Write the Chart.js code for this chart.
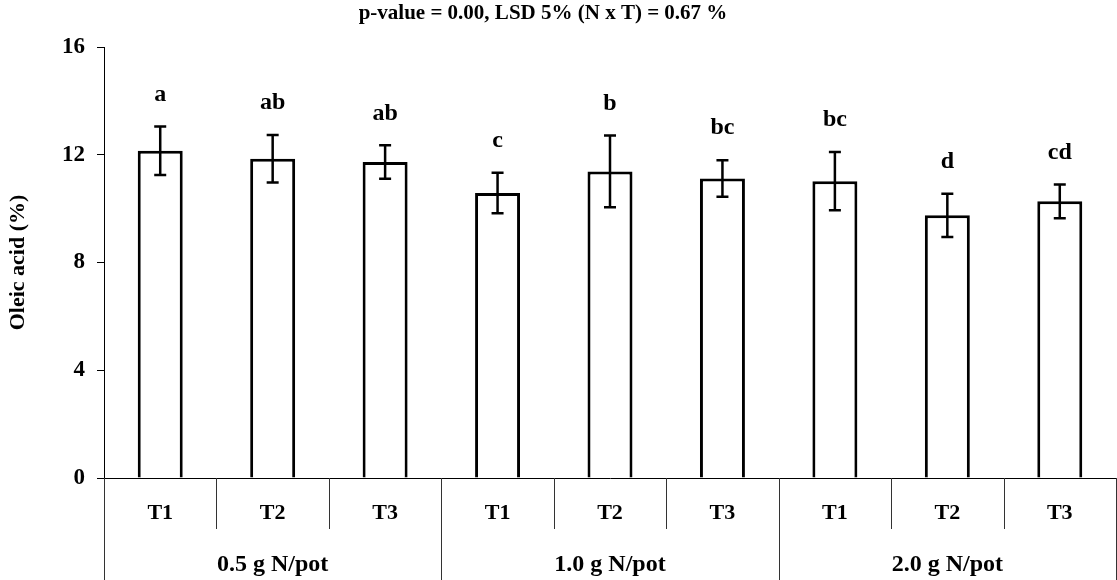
<!DOCTYPE html>
<html>
<head>
<meta charset="utf-8">
<script src="https://cdn.jsdelivr.net/npm/chart.js@4/dist/chart.umd.min.js"></script>
<style>
  html, body { margin: 0; padding: 0; background: #fff; }
  #wrap { width: 1117px; height: 580px; }
</style>
</head>
<body>
<div id="wrap"><canvas id="chart"></canvas></div>
<script>
// 窒素施用量ごとの処理区
const groupNames = ['0.5 g N/pot', '1.0 g N/pot', '2.0 g N/pot'];
const treatments = ['T1', 'T2', 'T3'];

// オレイン酸 (%) の平均値と誤差
const oleicMeans = [12.15, 11.85, 11.73, 10.58, 11.38, 11.12, 11.02, 9.75, 10.27];
const oleicErrors = [0.9, 0.88, 0.62, 0.75, 1.33, 0.68, 1.08, 0.8, 0.63];
const letters = ['a', 'ab', 'ab', 'c', 'b', 'bc', 'bc', 'd', 'cd'];

const yTicks = [0, 4, 8, 12, 16];
const titleText = 'p-value = 0.00, LSD 5% (N x T) = 0.67 %';
const yTitle = 'Oleic acid (%)';

const labels = [];
groupNames.forEach(() => treatments.forEach(t => labels.push(t)));

const FONT = '"Liberation Serif", "Times New Roman", serif';
Chart.defaults.font.family = FONT;
Chart.defaults.color = '#000';

// 誤差棒・文字・2段のX軸ラベルを描く
const extrasPlugin = {
  id: 'extras',
  afterDatasetsDraw(chart) {
    const { ctx, chartArea } = chart;
    const xs = chart.scales.x;
    const ys = chart.scales.y;
    const meta = chart.getDatasetMeta(0);

    ctx.save();
    ctx.strokeStyle = '#000';
    ctx.fillStyle = '#000';

    // 誤差棒
    ctx.lineWidth = 2.5;
    meta.data.forEach((bar, i) => {
      const top = ys.getPixelForValue(oleicMeans[i] + oleicErrors[i]);
      const bot = ys.getPixelForValue(oleicMeans[i] - oleicErrors[i]);
      const cap = 6;
      ctx.beginPath();
      ctx.moveTo(bar.x, top);
      ctx.lineTo(bar.x, bot);
      ctx.moveTo(bar.x - cap, top);
      ctx.lineTo(bar.x + cap, top);
      ctx.moveTo(bar.x - cap, bot);
      ctx.lineTo(bar.x + cap, bot);
      ctx.stroke();

      // 有意差の文字
      ctx.font = 'bold 24px ' + FONT;
      ctx.textAlign = 'center';
      ctx.textBaseline = 'middle';
      ctx.fillText(letters[i], bar.x, top - 32);
    });

    // タイトル
    ctx.font = 'bold 21px ' + FONT;
    ctx.textAlign = 'center';
    ctx.textBaseline = 'middle';
    ctx.fillText(titleText, 543, 14);

    // X軸の区切り線とラベル
    const bottom = chartArea.bottom;
    const full = chart.height;
    const n = labels.length;
    const per = treatments.length;
    ctx.lineWidth = 1;
    ctx.strokeStyle = '#333';
    for (let i = 0; i <= n; i++) {
      let x;
      if (i === 0) x = chartArea.left;
      else if (i === n) x = chartArea.right;
      else x = (xs.getPixelForValue(i - 1) + xs.getPixelForValue(i)) / 2;
      x = Math.round(x) + 0.5;
      const isGroup = i % per === 0;
      ctx.beginPath();
      ctx.moveTo(x, bottom);
      ctx.lineTo(x, isGroup ? full : bottom + 51);
      ctx.stroke();
    }

    ctx.font = 'bold 22px ' + FONT;
    labels.forEach((lab, i) => {
      ctx.fillText(lab, xs.getPixelForValue(i), bottom + 35);
    });

    ctx.font = 'bold 24px ' + FONT;
    groupNames.forEach((g, gi) => {
      const a = xs.getPixelForValue(gi * per);
      const b = xs.getPixelForValue(gi * per + per - 1);
      ctx.fillText(g, (a + b) / 2, bottom + 87);
    });

    ctx.restore();
  }
};

new Chart(document.getElementById('chart'), {
  type: 'bar',
  data: {
    labels: labels,
    datasets: [{
      data: oleicMeans,
      backgroundColor: '#fff',
      borderColor: '#000',
      borderWidth: 3,
      barPercentage: 0.4,
      categoryPercentage: 1.0
    }]
  },
  options: {
    responsive: true,
    maintainAspectRatio: false,
    animation: false,
    layout: { padding: { top: 47, right: 1, left: 0, bottom: 0 } },
    plugins: {
      legend: { display: false },
      tooltip: { enabled: false },
      title: { display: false }
    },
    scales: {
      x: {
        type: 'category',
        offset: true,
        ticks: { display: false },
        grid: { display: false },
        border: { display: true, color: '#000', width: 1 },
        afterFit: (scale) => { scale.height = 102; }
      },
      y: {
        min: 0,
        max: 16,
        afterBuildTicks: (scale) => { scale.ticks = yTicks.map(v => ({ value: v })); },
        ticks: {
          padding: 12,
          font: { size: 23, weight: 'bold' },
          color: '#000'
        },
        grid: {
          drawOnChartArea: false,
          drawTicks: true,
          tickLength: 7,
          color: '#000'
        },
        border: { display: true, color: '#000', width: 1 },
        title: {
          display: true,
          text: yTitle,
          font: { size: 22, weight: 'bold' },
          color: '#000',
          padding: { top: 5, bottom: 0 }
        },
        afterFit: (scale) => { scale.width = 104; }
      }
    }
  },
  plugins: [extrasPlugin]
});
</script>
</body>
</html>
